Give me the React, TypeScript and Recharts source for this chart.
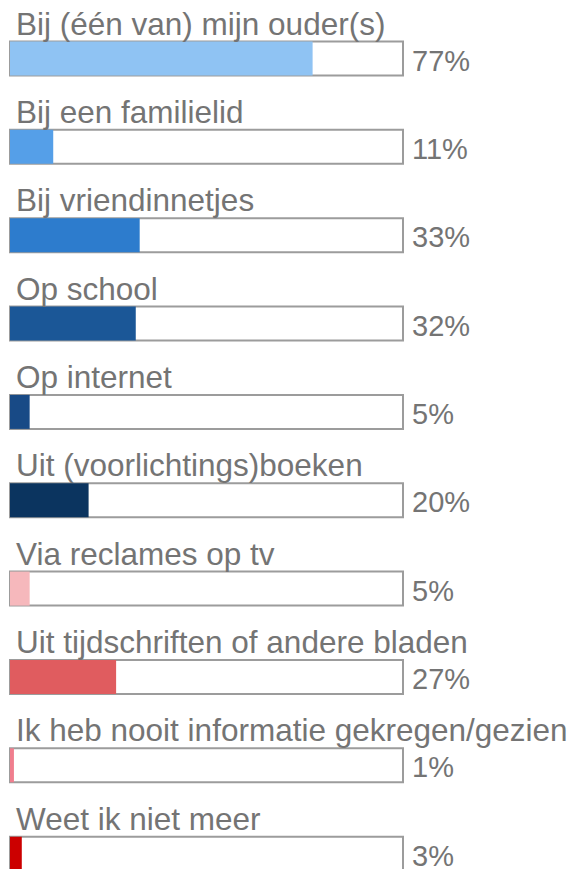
import { BarChart, Bar, XAxis, YAxis, Cell, LabelList } from "recharts";

const categories = [
  "Bij (één van) mijn ouder(s)",
  "Bij een familielid",
  "Bij vriendinnetjes",
  "Op school",
  "Op internet",
  "Uit (voorlichtings)boeken",
  "Via reclames op tv",
  "Uit tijdschriften of andere bladen",
  "Ik heb nooit informatie gekregen/gezien",
  "Weet ik niet meer",
];

const values = [77, 11, 33, 32, 5, 20, 5, 27, 1, 3];

const COLORS = [
  "#8fc3f3",
  "#559fe8",
  "#2d7ccd",
  "#1b5797",
  "#184a86",
  "#0b345f",
  "#f6b8bc",
  "#e05c5f",
  "#f07e8e",
  "#cc0000",
];

const data = categories.map((name, i) => ({ name, value: values[i] }));

const W = 569;
const MARGIN = { top: 14.5, right: 166, bottom: 0, left: 10 };
const PLOT_RIGHT = W - MARGIN.right;
const FONT = "'Liberation Sans', Arial, sans-serif";
const TEXT = "#747474";

const NameLabel = (props: any) => {
  const { x, y, value } = props;
  return (
    <text x={x + 6} y={y - 7} fill={TEXT} fontSize={31.5} fontFamily={FONT}>
      {value}
    </text>
  );
};

const PctLabel = (props: any) => {
  const { y, height, value } = props;
  return (
    <text x={PLOT_RIGHT + 9} y={y + height - 5} fill={TEXT} fontSize={29} fontFamily={FONT}>
      {value}%
    </text>
  );
};

export default function App() {
  return (
    <div style={{ position: "absolute", left: 0, top: 0, width: W, height: 869, overflow: "hidden", background: "#fff" }}>
      <BarChart
        width={W}
        height={898}
        data={data}
        layout="vertical"
        margin={MARGIN}
      >
        <XAxis type="number" domain={[0, 100]} hide />
        <YAxis type="category" dataKey="name" hide />
        <Bar
          dataKey="value"
          barSize={34}
          isAnimationActive={false}
          background={{ fill: "#fff", stroke: "#9c9c9c", strokeWidth: 2 }}
        >
          {data.map((_, i) => (
            <Cell key={i} fill={COLORS[i]} />
          ))}
          <LabelList dataKey="name" content={NameLabel} />
          <LabelList dataKey="value" content={PctLabel} />
        </Bar>
      </BarChart>
    </div>
  );
}
